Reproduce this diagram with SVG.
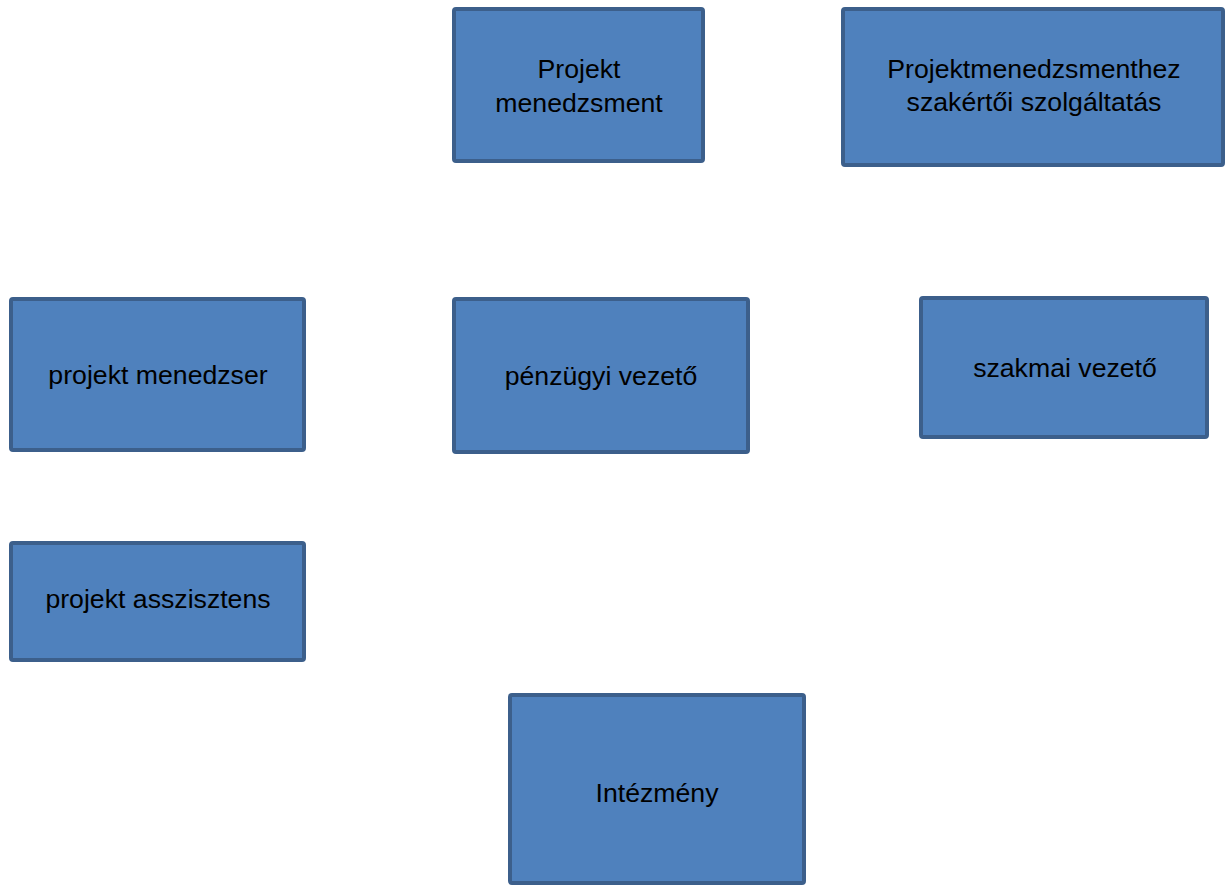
<svg xmlns="http://www.w3.org/2000/svg" width="1225" height="886" viewBox="0 0 1225 886">
<style>
.box{fill:#4F81BD;stroke:#3C5F8B;stroke-width:4}
.lbl{font-family:"Liberation Sans",Arial,sans-serif;font-size:26.67px;fill:#000;text-anchor:middle}
</style>
<rect width="1225" height="886" fill="#fff"/>
<g id="connectors"></g>
<g id="n-pm">
<rect class="box" x="454" y="9" width="249" height="152" rx="2"/>
<text class="lbl" x="579" y="78">Projekt</text>
<text class="lbl" x="579" y="112">menedzsment</text>
</g>
<g id="n-szolg">
<rect class="box" x="843" y="9" width="380" height="156" rx="2"/>
<text class="lbl" x="1034" y="78">Projektmenedzsmenthez</text>
<text class="lbl" x="1034" y="111">szakértői szolgáltatás</text>
</g>
<g id="n-menedzser">
<rect class="box" x="11" y="299" width="293" height="151" rx="2"/>
<text class="lbl" x="158" y="384">projekt menedzser</text>
</g>
<g id="n-penzugyi">
<rect class="box" x="454" y="299" width="294" height="153" rx="2"/>
<text class="lbl" x="601" y="385">pénzügyi vezető</text>
</g>
<g id="n-szakmai">
<rect class="box" x="921" y="298" width="286" height="139" rx="2"/>
<text class="lbl" x="1065" y="377">szakmai vezető</text>
</g>
<g id="n-asszisztens">
<rect class="box" x="11" y="543" width="293" height="117" rx="2"/>
<text class="lbl" x="158" y="608">projekt asszisztens</text>
</g>
<g id="n-intezmeny">
<rect class="box" x="510" y="695" width="294" height="188" rx="2"/>
<text class="lbl" x="657" y="802">Intézmény</text>
</g>
</svg>
